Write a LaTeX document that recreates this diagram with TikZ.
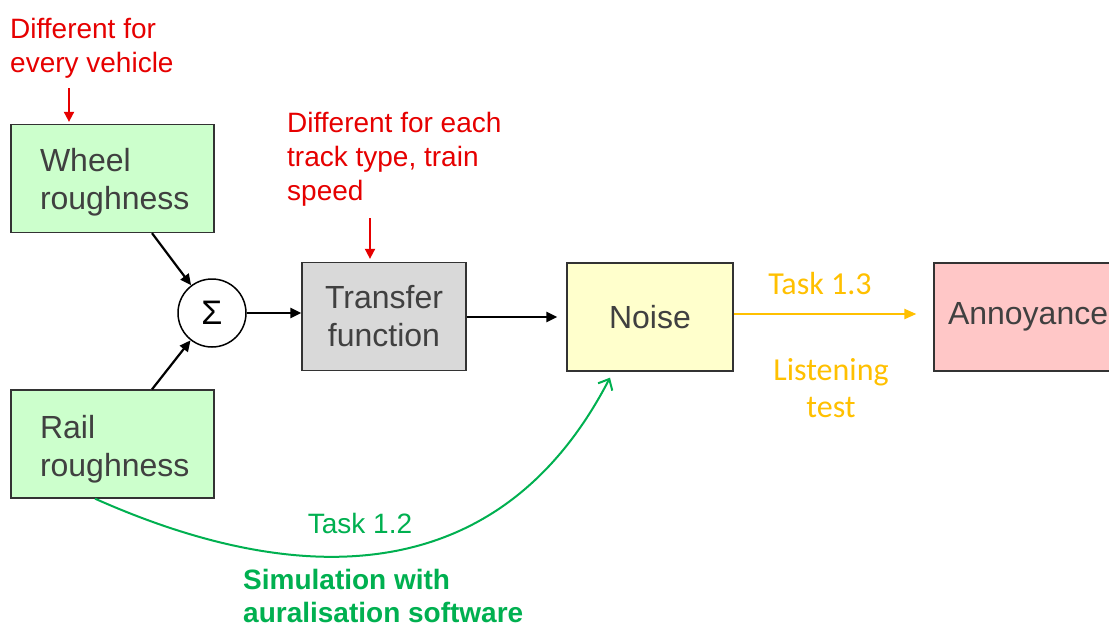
\documentclass[tikz,border=0pt]{standalone}
\usepackage{fontspec}
\setmainfont{Liberation Sans}
\newfontfamily\calib{Carlito}
\usetikzlibrary{arrows.meta}
\definecolor{redtxt}{HTML}{E60000}
\definecolor{grn}{HTML}{00B050}
\definecolor{orng}{HTML}{FFC000}
\definecolor{boxtxt}{HTML}{404040}
\definecolor{fgreen}{HTML}{CCFFCC}
\definecolor{fgray}{HTML}{D9D9D9}
\definecolor{fyellow}{HTML}{FFFFCC}
\definecolor{fpink}{HTML}{FFC7C7}
\begin{document}
\begin{tikzpicture}[x=1pt,y=-1pt,
  boxnode/.style={draw=black!80, line width=1.3pt, minimum height=108pt, inner sep=0pt, text=boxtxt,
    font=\fontsize{32}{38}\selectfont},
  redlbl/.style={text=redtxt, font=\fontsize{28}{34}\selectfont, align=left, inner sep=0pt, anchor=base west},
  redarr/.style={draw=redtxt, line width=1.8pt, -{Triangle[length=10pt,width=10pt]}},
  blkarr/.style={draw=black, line width=2.2pt, -{Triangle[length=11pt,width=10pt]}},
]
\fill[white] (0,0) rectangle (1109,627);
\clip (0,0) rectangle (1109,627);

% boxes
\node[boxnode, fill=fgreen, minimum width=203pt, text width=145pt, align=left] (wheel) at (112.5,178.5) {\rule{0pt}{31pt}Wheel\\roughness};
\node[boxnode, fill=fgreen, minimum width=203pt, text width=145pt, align=left] (rail) at (112.5,444) {\rule{0pt}{33pt}Rail\\roughness};
\node[draw=black, line width=1.5pt, circle, minimum size=68pt, inner sep=0pt, font=\fontsize{34}{40}\selectfont] (sum) at (212,313) {Σ};
\node[boxnode, fill=fgray, minimum width=164pt, align=center] (transfer) at (384,316.5) {Transfer\\function};
\node[boxnode, fill=fyellow, minimum width=166pt] (noise) at (650,317) {Noise};
\node[boxnode, fill=fpink, minimum width=190pt, text width=162pt, align=left] (annoy) at (1029,317) {Annoyance};

% red annotations
\node[redlbl] (red1) at (10,72) {Different for\\every vehicle};
\node[redlbl] (red2) at (287,200) {Different for each\\track type, train\\speed};
\coordinate (r1) at (69,88);
\coordinate (r2) at (370,218);
\draw[redarr, shorten >=2pt] (r1) -- (r1 |- wheel.north);
\draw[redarr, shorten >=3pt] (r2) -- (r2 |- transfer.north);

% black connectors
\draw[blkarr] ([xshift=39.5pt]wheel.south) -- (sum);
\draw[blkarr] ([xshift=39.5pt]rail.north) -- (sum);
\draw[blkarr] (sum.east) -- (sum.east -| transfer.west);
\draw[blkarr, shorten >=9pt] (transfer.east |- noise.center) -- (noise.west);

% orange
\draw[draw=orng, line width=2.2pt, -{Triangle[length=12pt,width=10pt]}, shorten >=17pt] ([yshift=3pt]noise.east) -- ([yshift=3pt]annoy.west);
\node[text=orng, font=\calib\fontsize{32}{37}\selectfont, inner sep=0pt] (t13) at (820,284) {Task 1.3};
\node[text=orng, font=\calib\fontsize{32}{37}\selectfont, align=center, inner sep=0pt] (lt) at (831,388) {Listening\\test};

% green
\draw[draw=grn, line width=2pt, -{Straight Barb[length=9pt,width=16pt,line width=2pt]}]
  ([xshift=-17.5pt]rail.south) .. controls (300,590) and (500,590) .. ([xshift=-40pt,yshift=-6pt]noise.south);
\node[text=grn, font=\fontsize{28}{34}\selectfont, inner sep=0pt] (t12) at (360,523) {Task 1.2};
\node[text=grn, font=\bfseries\fontsize{28}{33}\selectfont, align=left, inner sep=0pt, anchor=base west] (sim) at (243,622) {Simulation with\\auralisation software};
\end{tikzpicture}
\end{document}
